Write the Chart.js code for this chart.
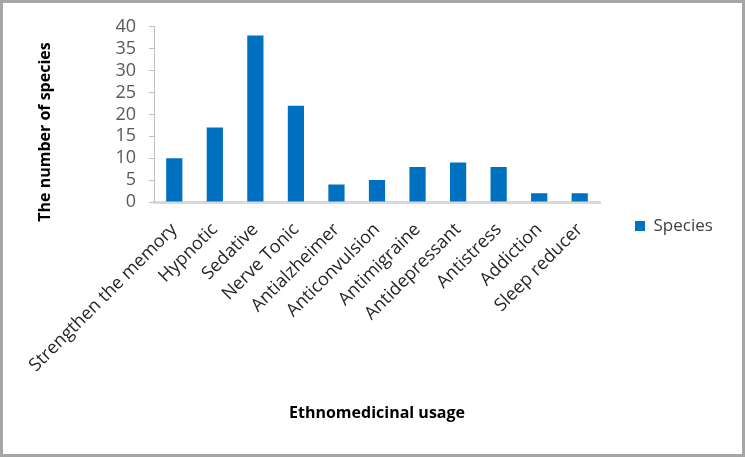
<!DOCTYPE html>
<html>
<head>
<meta charset="utf-8">
<script src="https://cdn.jsdelivr.net/npm/chart.js@4.4.0/dist/chart.umd.min.js"></script>
<style>
  html, body { margin: 0; padding: 0; background: #fff; }
  #wrap {
    width: 745px; height: 457px; box-sizing: border-box;
    border: 3px solid #a6a6a6; background: #fff;
  }
  canvas { display: block; }
</style>
</head>
<body>
<div id="wrap"><canvas id="chart" width="739" height="451"></canvas></div>
<script>
// Datos del gráfico
const usos = ['Strengthen the memory', 'Hypnotic', 'Sedative', 'Nerve Tonic', 'Antialzheimer',
  'Anticonvulsion', 'Antimigraine', 'Antidepressant', 'Antistress', 'Addiction', 'Sleep reducer'];
const especies = [10, 17, 38, 22, 4, 5, 8, 9, 8, 2, 2];
const serieNombre = 'Species';
const tituloX = 'Ethnomedicinal usage';
const tituloY = 'The number of species';

const fuente = "'Open Sans', 'DejaVu Sans', sans-serif";
const azul = '#0070C0';

// Medir la leyenda para dejar el área del gráfico donde corresponde
const ctx = document.getElementById('chart').getContext('2d');
const legendFont = 17;
ctx.font = legendFont + 'px ' + fuente;
const anchoTexto = ctx.measureText(serieNombre).width;
const legendPad = 35;
const anchoLeyenda = legendPad + 10 + legendFont / 2 + anchoTexto + 10;
const derechaArea = 597;
const padAbajo = 27;
const padDerecha = Math.max(0, 739 - derechaArea - anchoLeyenda);

// Título del eje Y dibujado a mano para ubicarlo como en el original
const tituloEjeY = {
  id: 'tituloEjeY',
  afterDraw(chart) {
    const c = chart.ctx;
    c.save();
    c.translate(42, 129);
    c.rotate(-Math.PI / 2);
    c.font = 'bold 16px ' + fuente;
    c.fillStyle = '#000';
    c.textAlign = 'center';
    c.textBaseline = 'middle';
    c.fillText(tituloY, 0, 0);
    c.restore();
  }
};

const myChart = new Chart(ctx, {
  type: 'bar',
  data: {
    labels: usos,
    datasets: [{
      label: serieNombre,
      data: especies,
      backgroundColor: azul,
      borderWidth: 0,
      categoryPercentage: 1,
      barPercentage: 0.4
    }]
  },
  options: {
    responsive: false,
    animation: false,
    layout: { padding: { left: 0, top: 22, right: padDerecha, bottom: padAbajo } },
    plugins: {
      tooltip: { enabled: false },
      legend: {
        position: 'right',
        labels: {
          boxWidth: 10,
          boxHeight: 10,
          padding: legendPad,
          color: '#404040',
          font: { family: fuente, size: legendFont }
        }
      }
    },
    scales: {
      x: {
        grid: { drawOnChartArea: false, drawTicks: false },
        border: { color: '#d9d9d9', width: 3 },
        ticks: {
          autoSkip: false,
          maxRotation: 45,
          minRotation: 45,
          padding: 17,
          color: '#262626',
          font: { family: fuente, size: 18 }
        },
        title: {
          display: true,
          text: tituloX,
          color: '#000',
          font: { family: fuente, size: 16, weight: 'bold' },
          padding: { top: 0, bottom: 31 - padAbajo }
        },
        afterFit: function (scale) { scale.height = 451 - 199 - padAbajo; }
      },
      y: {
        min: 0,
        max: 40,
        ticks: {
          stepSize: 5,
          autoSkip: false,
          padding: 13,
          color: '#595959',
          font: { family: fuente, size: 18 }
        },
        grid: { drawOnChartArea: false, drawTicks: true, tickLength: 5, color: '#bfbfbf' },
        border: { color: '#bfbfbf', width: 1 },
        afterFit: function (scale) { scale.width = 151; }
      }
    }
  },
  plugins: [tituloEjeY]
});
</script>
</body>
</html>
